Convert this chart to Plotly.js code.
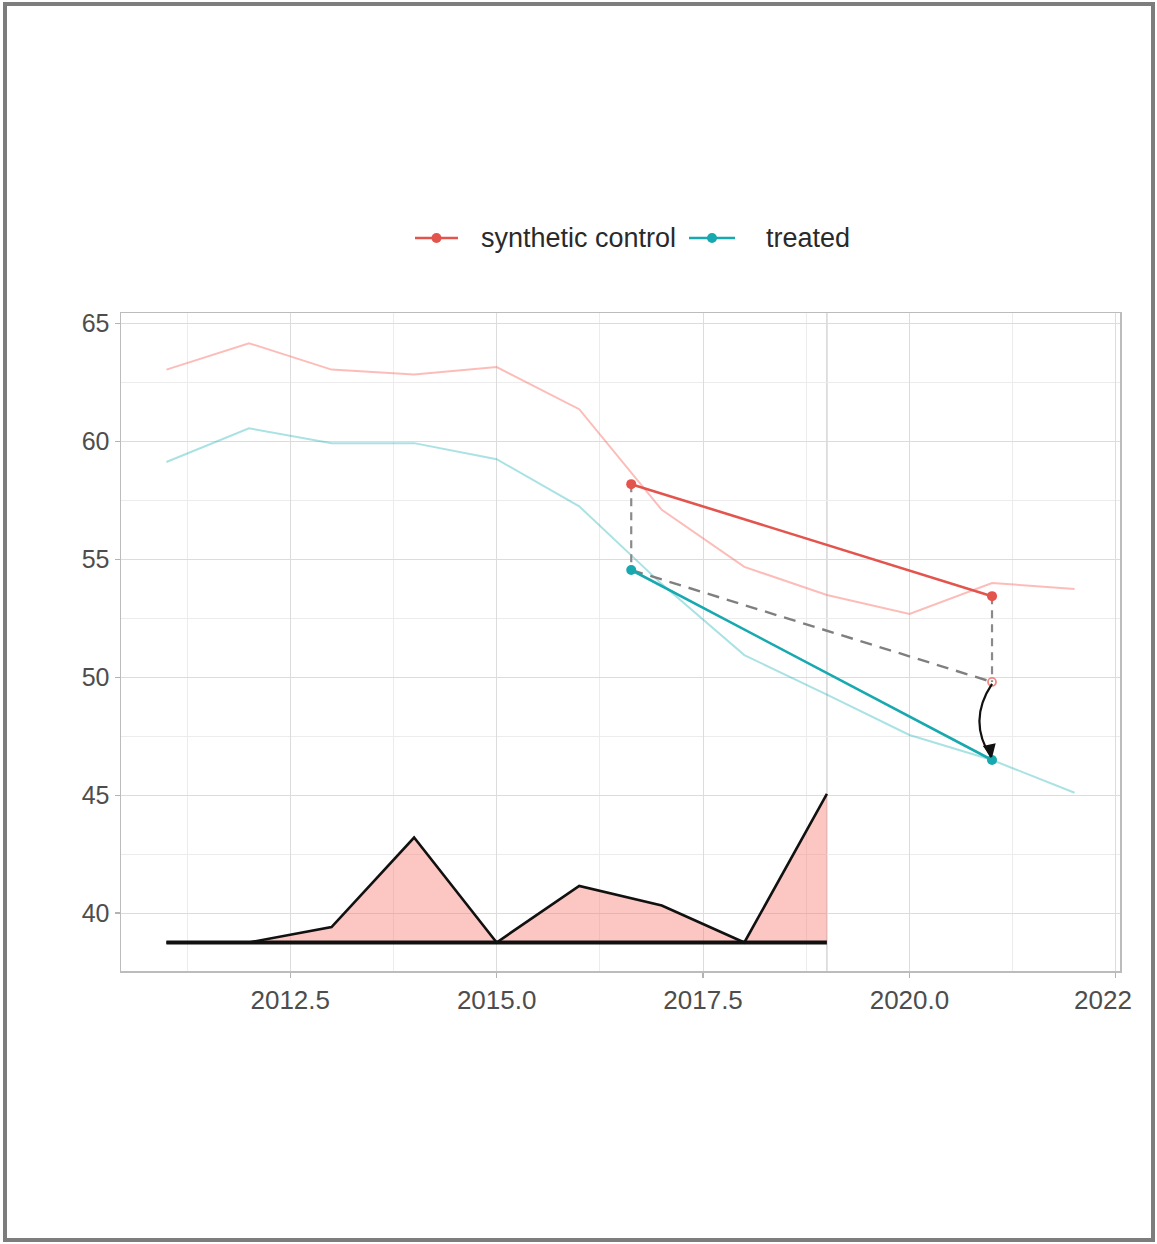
<!DOCTYPE html>
<html>
<head>
<meta charset="utf-8">
<script src="https://cdn.plot.ly/plotly-3.0.1.min.js"></script>
<style>
  html, body { margin: 0; padding: 0; background: #ffffff; }
  #wrap { position: relative; width: 1157px; height: 1244px; overflow: hidden; }
  #chart { position: absolute; left: 0; top: 0; width: 1157px; height: 1244px; }
  #frame { position: absolute; left: 3px; top: 2px; width: 1152px; height: 1240px;
           box-sizing: border-box; border: 4px solid #7d7d7d; pointer-events: none; z-index: 5; }
</style>
</head>
<body>
<div id="wrap">
  <div id="chart"></div>
  <div id="frame"></div>
</div>
<script>
// ---- data ----
const years = [2011, 2012, 2013, 2014, 2015, 2016, 2017, 2018, 2019, 2020, 2021, 2022];
const syntheticSeries = [63.05, 64.17, 63.05, 62.84, 63.16, 61.37, 57.10, 54.68, 53.49, 52.68, 54.00, 53.74];
const treatedSeries   = [59.13, 60.56, 59.93, 59.93, 59.25, 57.25, 53.95, 50.94, 49.26, 47.55, 46.49, 45.10];

const periods = [2016.63, 2021];
const syntheticMeans = [58.19, 53.44];
const treatedMeans = [54.55, 46.49];
const counterfactualMeans = [54.55, 49.80];

const weightYears = [2011, 2012, 2013, 2014, 2015, 2016, 2017, 2018, 2019];
const weightValues = [38.75, 38.75, 39.40, 43.20, 38.75, 41.15, 40.32, 38.75, 45.05];
const weightBase = [38.75, 38.75, 38.75, 38.75, 38.75, 38.75, 38.75, 38.75, 38.75];

const xTickVals = [2012.5, 2015.0, 2017.5, 2020.0, 2022.5];
const xTickText = ["2012.5", "2015.0", "2017.5", "2020.0", ""];
const lastXLabel = "2022";
const lastXLabelAt = 2022.35;
const yTickVals = [40, 45, 50, 55, 60, 65];
const yTickText = ["40", "45", "50", "55", "60", "65"];
const markerYear = 2019;

const seriesNames = ["synthetic control", "treated"];

// ---- styles ----
const RED = "#e3544d";
const TEAL = "#17a9af";
const FONT = "Liberation Sans, Arial, Helvetica, sans-serif";

// panel geometry (pixels) for the hand-placed legend
const M = {l: 121, r: 37, t: 313, b: 273};
const PW = 1157 - M.l - M.r, PH = 1244 - M.t - M.b;
const px = v => (v - M.l) / PW;
const py = v => (1244 - M.b - v) / PH;

const xMinor = xTickVals.map(v => v - 1.25);
const yMinor = yTickVals.map(v => v + 2.5).filter(v => v < 65.4);

const traces = [
  { x: years, y: syntheticSeries, mode: "lines", line: {color: "rgba(248,118,109,0.48)", width: 2}, showlegend: false, hoverinfo: "skip" },
  { x: years, y: treatedSeries, mode: "lines", line: {color: "rgba(20,175,180,0.36)", width: 2}, showlegend: false, hoverinfo: "skip" },
  { x: weightYears, y: weightBase, mode: "lines", line: {color: "rgba(0,0,0,0)", width: 0}, showlegend: false, hoverinfo: "skip" },
  { x: weightYears, y: weightValues, mode: "lines", fill: "tonexty", fillcolor: "rgba(248,118,109,0.42)",
    line: {color: "#111111", width: 2.6}, showlegend: false, hoverinfo: "skip" },
  { x: weightYears, y: weightBase, mode: "lines", line: {color: "#111111", width: 4}, showlegend: false, hoverinfo: "skip" },
  { x: periods, y: counterfactualMeans, mode: "lines", line: {color: "#7f7f7f", width: 2.4, dash: "12px,8px"}, showlegend: false, hoverinfo: "skip" },
  { x: [periods[0], periods[0], null, periods[1], periods[1]],
    y: [syntheticMeans[0], treatedMeans[0], null, syntheticMeans[1], counterfactualMeans[1]],
    mode: "lines", line: {color: "#8a8a8a", width: 2.2, dash: "8px,6px"}, showlegend: false, hoverinfo: "skip" },
  { x: periods, y: syntheticMeans, mode: "lines+markers", name: seriesNames[0], showlegend: false,
    line: {color: RED, width: 2.6}, marker: {color: RED, size: 10} },
  { x: periods, y: treatedMeans, mode: "lines+markers", name: seriesNames[1], showlegend: false,
    line: {color: TEAL, width: 2.6}, marker: {color: TEAL, size: 10} },
  { x: [periods[1]], y: [counterfactualMeans[1]], mode: "markers",
    marker: {color: "rgba(0,0,0,0)", size: 8, line: {color: "#f08a84", width: 1.8}}, showlegend: false, hoverinfo: "skip" }
];

const cfY = counterfactualMeans[1];
const trY = treatedMeans[1];
const arrowPath = "M " + periods[1] + "," + (cfY - 0.08) +
  " Q " + (periods[1] - 0.3) + "," + ((cfY + trY) / 2) + " " + (periods[1] - 0.01) + "," + (trY + 0.12);

// legend (symbol line + dot + label), placed in paper coordinates
const legendItems = [
  {name: seriesNames[0], color: RED, x0: 415, x1: 458, tx: 479},
  {name: seriesNames[1], color: TEAL, x0: 689, x1: 735, tx: 764}
];
const legendY = 238;
const legendShapes = [];
const legendAnn = [];
legendItems.forEach(it => {
  legendShapes.push({type: "line", xref: "paper", yref: "paper", x0: px(it.x0), x1: px(it.x1), y0: py(legendY), y1: py(legendY),
    line: {color: it.color, width: 2.6}});
  legendShapes.push({type: "circle", xref: "paper", yref: "paper", xsizemode: "pixel", ysizemode: "pixel",
    xanchor: px((it.x0 + it.x1) / 2), yanchor: py(legendY), x0: -5, x1: 5, y0: -5, y1: 5,
    fillcolor: it.color, line: {color: it.color, width: 0}});
  legendAnn.push({xref: "paper", yref: "paper", x: px(it.tx), y: py(legendY), xanchor: "left", yanchor: "middle",
    text: it.name, showarrow: false, font: {family: FONT, size: 27, color: "#2a2a2a"}});
});

const layout = {
  width: 1157, height: 1244,
  paper_bgcolor: "#ffffff", plot_bgcolor: "#ffffff",
  margin: M,
  font: {family: FONT, color: "#4d4d4d"},
  showlegend: false,
  xaxis: {
    range: [2010.45, 2022.55], tickmode: "array", tickvals: xTickVals, ticktext: xTickText,
    showgrid: true, gridcolor: "#dcdcdc", gridwidth: 1, zeroline: false,
    minor: {tickmode: "array", tickvals: xMinor, showgrid: true, gridcolor: "#ececec", gridwidth: 1, ticks: ""},
    ticks: "outside", ticklen: 5, tickcolor: "#b3b3b3", tickwidth: 1.2,
    showline: true, mirror: true, linecolor: "#bcbcbc", linewidth: 1.5,
    tickfont: {family: FONT, size: 26, color: "#4d4d4d"}
  },
  yaxis: {
    range: [37.54, 65.45], tickmode: "array", tickvals: yTickVals, ticktext: yTickText,
    showgrid: true, gridcolor: "#dcdcdc", gridwidth: 1, zeroline: false,
    minor: {tickmode: "array", tickvals: yMinor, showgrid: true, gridcolor: "#ececec", gridwidth: 1, ticks: ""},
    ticks: "outside", ticklen: 5, tickcolor: "#b3b3b3", tickwidth: 1.2,
    showline: true, mirror: true, linecolor: "#bcbcbc", linewidth: 1.5,
    tickfont: {family: FONT, size: 25, color: "#4d4d4d"}
  },
  shapes: [
    { type: "line", xref: "x", yref: "paper", x0: markerYear, x1: markerYear, y0: 0, y1: 1,
      line: {color: "#d6d6d6", width: 1.5}, layer: "below" },
    { type: "path", xref: "x", yref: "y", path: arrowPath, line: {color: "#111111", width: 2.2}, layer: "above" }
  ].concat(legendShapes),
  annotations: [
    { x: periods[1], y: trY + 0.1, xref: "x", yref: "y", text: "", showarrow: true,
      ax: -3, ay: -14, arrowhead: 2, arrowsize: 1.2, arrowwidth: 2.2, arrowcolor: "#111111", standoff: 0 },
    { x: lastXLabelAt, y: 0, xref: "x", yref: "paper", yanchor: "top", yshift: -12,
      text: lastXLabel, showarrow: false, font: {family: FONT, size: 26, color: "#4d4d4d"} }
  ].concat(legendAnn)
};

Plotly.newPlot("chart", traces, layout, {staticPlot: true, displayModeBar: false});
</script>
</body>
</html>
